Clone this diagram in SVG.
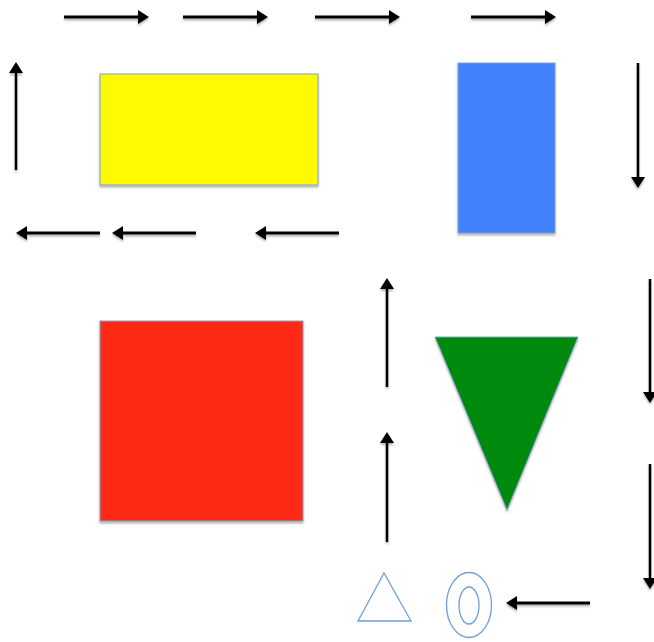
<svg xmlns="http://www.w3.org/2000/svg" width="654" height="642" viewBox="0 0 654 642">
<style>
.arr{stroke:#000;stroke-width:3;fill:none;marker-end:url(#ah)}
.varr{stroke:#000;stroke-width:2.5;fill:none;marker-end:url(#ah)}
.shape{stroke:#7E9FC9;stroke-width:1;filter:url(#sh)}
.outline{fill:none;stroke:#6D9FDA;stroke-width:1.3}
</style>
<defs>
<marker id="ah" markerUnits="userSpaceOnUse" markerWidth="11" markerHeight="14" refX="4" refY="7" orient="auto">
<path d="M0,0 L11,7 L0,14 z" fill="#000"/>
</marker>
<filter id="sh" x="-10%" y="-10%" width="130%" height="130%">
<feGaussianBlur in="SourceAlpha" stdDeviation="1.2"/>
<feOffset dx="0" dy="2" result="b"/>
<feComponentTransfer><feFuncA type="linear" slope="0.3"/></feComponentTransfer>
<feMerge><feMergeNode/><feMergeNode in="SourceGraphic"/></feMerge>
</filter>
<filter id="ash" filterUnits="userSpaceOnUse" x="0" y="0" width="654" height="642">
<feGaussianBlur in="SourceAlpha" stdDeviation="1"/>
<feOffset dx="0" dy="1.5"/>
<feComponentTransfer><feFuncA type="linear" slope="0.3"/></feComponentTransfer>
<feMerge><feMergeNode/><feMergeNode in="SourceGraphic"/></feMerge>
</filter>
</defs>
<rect width="654" height="642" fill="#fff"/>
<g id="yellow-rect"><rect class="shape" x="100" y="74" width="218" height="111" fill="#FFFA00"/></g>
<g id="blue-rect"><rect class="shape" x="458" y="63" width="97" height="170" fill="#3F82FF"/></g>
<g id="red-square"><rect class="shape" x="100" y="321" width="203" height="200" fill="#FF2A14"/></g>
<g id="green-triangle"><polygon class="shape" points="435,337 578,337 507,510" fill="#008A0E"/></g>
<g id="outline-triangle"><polygon class="outline" points="358,621 411,621 384,573"/></g>
<g id="rings"><ellipse class="outline" cx="469" cy="605" rx="22.5" ry="32.5"/><ellipse class="outline" cx="469" cy="605.5" rx="10" ry="18.5"/></g>
<g id="connectors" filter="url(#ash)">
<path class="arr" d="M64,17 H142"/>
<path class="arr" d="M183,17 H261"/>
<path class="arr" d="M315,17 H393"/>
<path class="arr" d="M471,17 H549"/>
<path class="varr" d="M16,170 V69"/>
<path class="varr" d="M638,63 V181"/>
<path class="arr" d="M100,233 H23"/>
<path class="arr" d="M196,233 H119"/>
<path class="arr" d="M339,233 H262"/>
<path class="varr" d="M387,387 V285"/>
<path class="varr" d="M387,542 V439"/>
<path class="varr" d="M650,279 V396"/>
<path class="varr" d="M650,464 V582"/>
<path class="arr" d="M590,603 H513"/>
</g>
</svg>
